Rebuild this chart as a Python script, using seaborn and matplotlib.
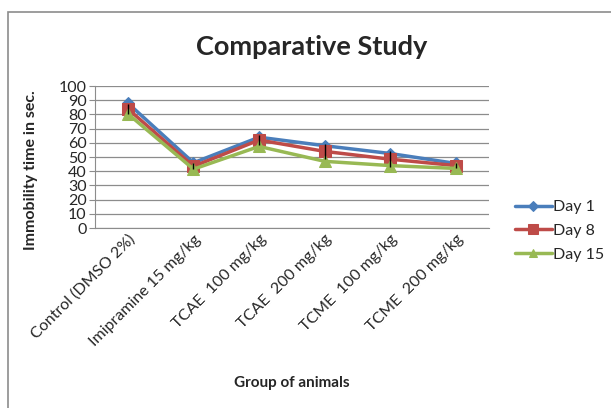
import pandas as pd
import matplotlib.pyplot as plt
import seaborn as sns
from matplotlib.patches import Rectangle

# values
groups = ['Control (DMSO 2%)', 'Imipramine 15 mg/kg', 'TCAE  100 mg/kg',
          'TCAE  200 mg/kg', 'TCME  100 mg/kg', 'TCME  200 mg/kg']
day1 = [88, 46, 64, 58, 52.5, 45.5]
day8 = [84, 43.5, 62, 54, 48.5, 44]
day15 = [80.5, 41.5, 57.5, 47, 44, 42]
day8_err = [3.5, 2, 3.5, 5.5, 5.5, 2]
y_ticks = list(range(0, 101, 10))

df = pd.DataFrame({
    'group': groups * 3,
    'value': day1 + day8 + day15,
    'day': ['Day 1'] * 6 + ['Day 8'] * 6 + ['Day 15'] * 6,
})

sns.set_style('white')
plt.rcParams['font.family'] = ['Lato', 'DejaVu Sans']

fig = plt.figure(figsize=(6.11, 4.08), dpi=100)
ax = fig.add_axes([0.1555, 0.441, 0.6445, 0.348])

# Excel-like chart border
fig.patches.append(Rectangle((8 / 611, -0.05), 1.1, 1 - 12 / 408 + 0.05,
                             transform=fig.transFigure, fill=False,
                             edgecolor='#8c8c8c', linewidth=1.2))

colors = {'Day 1': '#4a7ebb', 'Day 8': '#be4b48', 'Day 15': '#98b954'}
markers = {'Day 1': 'D', 'Day 8': 's', 'Day 15': '^'}
sizes = {'Day 1': 6, 'Day 8': 9, 'Day 15': 8}

df['x'] = df['group'].map({g: i for i, g in enumerate(groups)})
for day in ['Day 1', 'Day 8', 'Day 15']:
    sub = df[df['day'] == day]
    sns.lineplot(data=sub, x='x', y='value', ax=ax, color=colors[day],
                 marker=markers[day], markersize=sizes[day],
                 markeredgecolor=colors[day], linewidth=2.5, label=day,
                 zorder=3)

# error bars on Day 8
ax.errorbar(range(len(groups)), day8, yerr=day8_err, fmt='none',
            ecolor='black', elinewidth=1, capsize=0, zorder=4)

ax.set_xlim(-0.5, len(groups) - 0.5)
ax.set_ylim(0, 100)
ax.set_yticks(y_ticks)
ax.set_xticks(range(len(groups)))
ax.set_xticklabels(groups, rotation=45, ha='right', rotation_mode='anchor',
                   fontsize=11.5)
ax.tick_params(axis='y', labelsize=11.5, length=4, direction='out',
               color='#8c8c8c', left=True, pad=2)
ax.tick_params(axis='x', length=0, pad=3)
ax.yaxis.grid(True, color='#8c8c8c', linewidth=0.9)
for s in ['top', 'right']:
    ax.spines[s].set_visible(False)
for s in ['left', 'bottom']:
    ax.spines[s].set_color('#8c8c8c')

ax.set_xlabel('Group of animals', fontsize=11, fontweight='bold')
ax.xaxis.set_label_coords(0.5, -1.04)
ax.set_ylabel('Immobility time in sec.', fontsize=11.5, fontweight='bold')
ax.yaxis.set_label_coords(-0.145, 0.41)
fig.text(0.51, 0.885, 'Comparative Study', ha='center', va='center',
         fontsize=19.5, fontweight='bold')

leg = ax.legend(loc='center left', bbox_to_anchor=(1.03, -0.02), frameon=False,
                fontsize=11.5, handlelength=2.3, labelspacing=0.6,
                handletextpad=0.1, markerscale=0.8)

fig.savefig('out.png', dpi=100)
